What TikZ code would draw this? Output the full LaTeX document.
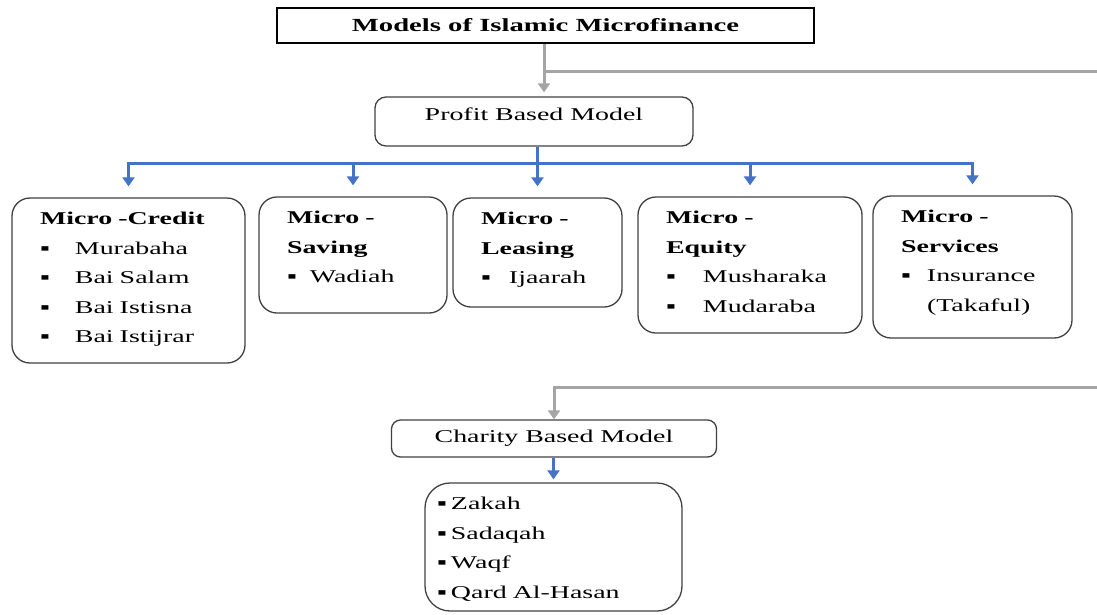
\documentclass[tikz,border=0pt]{standalone}
\usepackage{fontspec}
\setmainfont[FakeStretch=1.55]{Liberation Serif}
\usetikzlibrary{arrows.meta}
\definecolor{node_gray}{RGB}{64,64,64}
\definecolor{edge_gray}{RGB}{165,165,165}
\definecolor{edge_blue}{RGB}{68,114,196}
\newcommand{\itm}[2][26pt]{\makebox[#1][l]{▪}#2}

\begin{document}
\begin{tikzpicture}[x=1pt,y=-1pt,>={Triangle[width=12pt,length=9pt]}]
    \tikzstyle{heading}=[draw=black, line width=1.4pt, rectangle, inner sep=0pt, font=\fontsize{18.5}{22}\selectfont\bfseries]
    \tikzstyle{model}=[draw=node_gray, line width=1.3pt, rounded corners=11pt, inner sep=0pt, font=\fontsize{18}{22}\selectfont]
    \tikzstyle{product}=[draw=node_gray, line width=1.3pt, rounded corners=18pt, align=left, inner xsep=28pt, inner ysep=0pt, text height=12pt, font=\fontsize{18}{29.5}\selectfont]
    \tikzstyle{gline}=[edge_gray, line width=3pt]
    \tikzstyle{bline}=[edge_blue, line width=3pt]

    \useasboundingbox (0,0) rectangle (1097,614);

    \node[heading, minimum width=537, minimum height=35] (title) at (545.5,25.5) {Models of Islamic Microfinance};
    \node[model, minimum width=318, minimum height=49, text depth=14pt] (profit) at (534,121.5) {Profit Based Model};

    \node[product, text width=177, minimum height=165, text depth=124] (credit) at (128.5,280.5)
      {\textbf{Micro -Credit}\\ \itm[35pt]{Murabaha}\\ \itm[35pt]{Bai Salam}\\ \itm[35pt]{Bai Istisna}\\ \itm[35pt]{Bai Istijrar}};
    \node[product, text width=132, minimum height=116, text depth=75] (saving) at (353,255)
      {\textbf{Micro -}\\ \textbf{Saving}\\ \itm[23pt]{Wadiah}};
    \node[product, text width=113, minimum height=109, text depth=68] (leasing) at (537.5,252.5)
      {\textbf{Micro -}\\ \textbf{Leasing}\\ \itm[28pt]{Ijaarah}};
    \node[product, text width=168, minimum height=136, text depth=95] (equity) at (750,265)
      {\textbf{Micro -}\\ \textbf{Equity}\\ \itm[37pt]{Musharaka}\\ \itm[37pt]{Mudaraba}};
    \node[product, text width=143, minimum height=142, text depth=101] (services) at (972.5,267)
      {\textbf{Micro -}\\ \textbf{Services}\\ \itm[26pt]{Insurance}\\ \hspace*{26pt}(Takaful)};

    \node[model, rounded corners=9pt, minimum width=325, minimum height=37] (charity) at (554,438.5) {Charity Based Model};
    \node[product, rounded corners=25pt, inner xsep=12pt, text width=233, minimum height=128, text depth=87] (gifts) at (553.5,547)
      {\itm[14pt]{Zakah}\\ \itm[14pt]{Sadaqah}\\ \itm[14pt]{Waqf}\\ \itm[14pt]{Qard Al-Hasan}};

    % gray trunk from the title
    \coordinate (split) at (544,71);
    \coordinate (offpage) at (1115,71);
    \draw[gline,->,shorten >=4pt] (title.south -| split) -- (split |- profit.north);
    \draw[gline,->] (split) -- (offpage) |- ([yshift=32pt]charity.north) -- (charity.north);

    % blue branches
    \coordinate (bus) at (537,163);
    \draw[bline,->,shorten >=11pt] (profit.south -| leasing.north) -- (leasing.north);
    \foreach \b in {credit,saving,equity,services}
      \draw[bline,->,shorten >=11pt] (bus) -| (\b.north);
    \draw[bline,->,shorten >=3pt] (charity.south -| gifts.north) -- (gifts.north);
\end{tikzpicture}
\end{document}
